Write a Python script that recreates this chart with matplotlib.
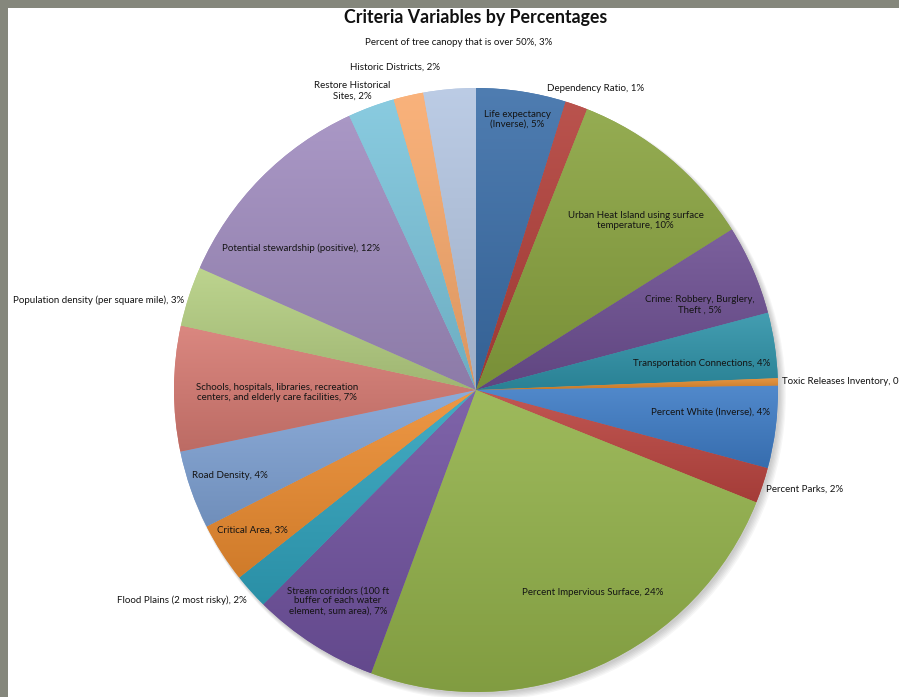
"""Pie chart of the criteria variables and the share each one gets in the index."""

import matplotlib
matplotlib.use("Agg")
import matplotlib.pyplot as plt
import matplotlib.patches as mpatches
import matplotlib.colors as mcolors
import numpy as np

## Data, clockwise from 12 o'clock.
categories = [
    "Life expectancy\n(Inverse)",
    "Dependency Ratio",
    "Urban Heat Island using surface\ntemperature",
    "Crime: Robbery, Burglery,\nTheft ",
    "Transportation Connections",
    "Toxic Releases Inventory",
    "Percent White (Inverse)",
    "Percent Parks",
    "Percent Impervious Surface",
    "Stream corridors (100 ft\nbuffer of each water\nelement, sum area)",
    "Flood Plains (2 most risky)",
    "Critical Area",
    "Road Density",
    "Schools, hospitals, libraries, recreation\ncenters, and elderly care facilities",
    "Population density (per square mile)",
    "Potential stewardship (positive)",
    "Restore Historical\nSites",
    "Historic Districts",
    "Percent of tree canopy that is over 50%",
]

# Slice sizes (percent).
shares = [4.8, 1.2, 10.1, 4.8, 3.5, 0.4, 4.4, 1.9, 24.6, 6.8,
          1.9, 3.2, 4.2, 6.7, 3.2, 11.5, 2.5, 1.6, 2.8]

# Percentages as printed in the labels.
shown_pct = [5, 1, 10, 5, 4, 0, 4, 2, 24, 7, 2, 3, 4, 7, 3, 12, 2, 2, 3]

colors = ["#3b6ea8", "#b2403a", "#89a33f", "#6d4f92", "#2f93a9", "#e28a2e",
          "#3e7cc6", "#bb4540", "#93b24a", "#7153a0", "#30a3bd", "#ec8c30",
          "#7fa2d4", "#d67a72", "#b5cf82", "#a08cbf", "#7cc5dc", "#f9aa6d",
          "#b4c6e2"]

# Label placement: radius (pie radius = 1), angle nudge in degrees, alignment.
label_radius = [0.907, 1.027, 0.771, 0.793, 0.753, 1.013, 0.779, 1.015, 0.774,
                0.834, 1.029, 0.873, 0.861, 0.659, 1.011, 0.746, 1.072, 1.101,
                1.153]
label_nudge = [0, -6.2, 3.6, 2.6, 1.9, 0, -1.6, 0.4, -5.9, 0.7, -0.7, 0.6,
               0.2, -1.1, -0.9, -5.4, -2.1, -1.1, 2.2]
label_ha = ["center", "left", "center", "center", "center", "left", "center",
            "left", "center", "center", "right", "center", "center", "center",
            "right", "center", "center", "center", "center"]

font = ["Lato", "DejaVu Sans"]

## Figure, with the grey slide frame around a white area.
W, H = 899, 697
fig = plt.figure(figsize=(W / 100, H / 100), dpi=100)
fig.patch.set_facecolor("#85877c")
fig.patches.append(mpatches.Rectangle((8 / W, 0), 1, (H - 8) / H,
                                      transform=fig.transFigure,
                                      facecolor="white", edgecolor="none",
                                      zorder=-5))

# Axes covering the whole figure, scaled so the pie sits where it does in the slide.
cx, cy, R = 476, 390, 302
ax = fig.add_axes([0, 0, 1, 1])
ax.set_zorder(1)

wedges, _ = ax.pie(shares, colors=colors, startangle=90, counterclock=False,
                   radius=1, wedgeprops=dict(linewidth=0))

ax.set_aspect("auto")
ax.set_frame_on(False)
ax.patch.set_visible(False)

# Soft shadow under the pie.
for i in range(6):
    ax.add_patch(mpatches.Circle((0.006 + i * 0.002, -0.008 - i * 0.002),
                                 1.0 + i * 0.002, facecolor="black",
                                 edgecolor="none", alpha=0.035, zorder=0.5))


# Vertical gradient inside each slice, lighter at the top like the Excel style.
def shade(color, amount):
    rgb = np.array(mcolors.to_rgb(color))
    if amount > 0:
        return rgb + (1 - rgb) * amount
    return rgb * (1 + amount)


for wedge, color in zip(wedges, colors):
    wedge.set_zorder(1)
    ext = wedge.get_path().get_extents()
    top = shade(color, 0.10)
    bottom = shade(color, -0.12)
    t = np.linspace(0, 1, 64)[:, None]
    grad = (bottom[None, :] * (1 - t) + top[None, :] * t)[:, None, :]
    img = ax.imshow(grad, extent=[ext.x0, ext.x1, ext.y0, ext.y1],
                    origin="lower", aspect="auto", interpolation="bilinear",
                    zorder=2)
    img.set_clip_path(wedge)

# Limits chosen so the pie centre and radius land at the slide's pixels.
ax.set_xlim(-cx / R, (W - cx) / R)
ax.set_ylim(-(H - cy) / R, cy / R)

## Labels.
for wedge, label, pct, r, nudge, ha in zip(wedges, categories, shown_pct,
                                           label_radius, label_nudge, label_ha):
    mid = (wedge.theta1 + wedge.theta2) / 2
    angle = np.deg2rad(90 - mid + nudge)  # clockwise from the top
    x = r * np.sin(angle)
    y = r * np.cos(angle)
    ax.text(x, y, f"{label}, {pct}%", ha=ha, va="center", multialignment="center",
            fontsize=7.0, family=font, color="#141414", zorder=5,
            linespacing=1.15)

fig.text(476 / W, 1 - 18 / H, "Criteria Variables by Percentages",
         ha="center", va="center", fontsize=12.8, fontweight="bold",
         family=font, color="#111111", zorder=5)

fig.savefig("out.png", dpi=100, facecolor=fig.get_facecolor())
